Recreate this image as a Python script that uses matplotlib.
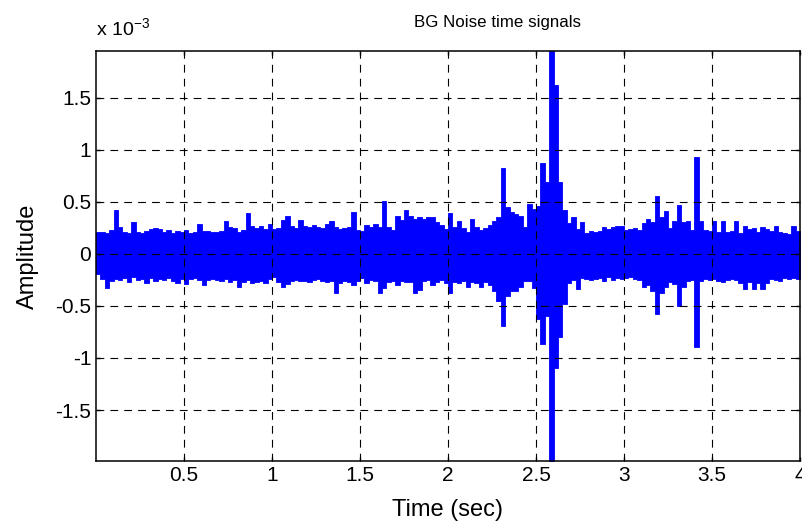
import numpy as np
import matplotlib
matplotlib.use('Agg')
import matplotlib.pyplot as plt
from matplotlib.ticker import FuncFormatter

plt.rcParams['font.family'] = ['Liberation Sans', 'DejaVu Sans']
plt.rcParams['mathtext.default'] = 'regular'

# signal extremes per 0.025 s window (x 1e-3), 0 .. 4 s
hi = [0.21, 0.21, 0.20, 0.23, 0.42, 0.26, 0.21, 0.20,
      0.31, 0.21, 0.20, 0.22, 0.24, 0.25, 0.24, 0.21,
      0.23, 0.20, 0.22, 0.21, 0.23, 0.20, 0.21, 0.29,
      0.22, 0.22, 0.21, 0.21, 0.22, 0.32, 0.26, 0.25,
      0.21, 0.23, 0.39, 0.27, 0.25, 0.27, 0.24, 0.29,
      0.24, 0.25, 0.33, 0.36, 0.27, 0.25, 0.33, 0.27,
      0.26, 0.28, 0.26, 0.25, 0.29, 0.32, 0.26, 0.24,
      0.25, 0.26, 0.40, 0.23, 0.22, 0.28, 0.26, 0.29,
      0.26, 0.51, 0.26, 0.23, 0.36, 0.33, 0.42, 0.36,
      0.34, 0.35, 0.34, 0.35, 0.35, 0.31, 0.28, 0.24,
      0.39, 0.26, 0.32, 0.25, 0.21, 0.34, 0.26, 0.23,
      0.25, 0.28, 0.32, 0.35, 0.83, 0.45, 0.40, 0.38,
      0.36, 0.26, 0.48, 0.43, 0.46, 0.87, 0.69, 1.95,
      1.62, 0.69, 0.42, 0.30, 0.35, 0.24, 0.31, 0.20,
      0.22, 0.21, 0.22, 0.26, 0.24, 0.26, 0.27, 0.27,
      0.23, 0.24, 0.25, 0.23, 0.30, 0.34, 0.31, 0.56,
      0.35, 0.41, 0.25, 0.32, 0.47, 0.31, 0.32, 0.23,
      0.93, 0.32, 0.23, 0.22, 0.32, 0.21, 0.32, 0.21,
      0.22, 0.32, 0.20, 0.27, 0.24, 0.25, 0.21, 0.26,
      0.24, 0.22, 0.27, 0.21, 0.20, 0.19, 0.27, 0.22]
lo = [-0.19, -0.24, -0.33, -0.26, -0.24, -0.25, -0.23, -0.27,
      -0.22, -0.25, -0.24, -0.28, -0.23, -0.26, -0.24, -0.25,
      -0.23, -0.26, -0.28, -0.24, -0.29, -0.24, -0.23, -0.25,
      -0.30, -0.25, -0.24, -0.25, -0.26, -0.24, -0.27, -0.25,
      -0.32, -0.27, -0.25, -0.28, -0.27, -0.26, -0.28, -0.24,
      -0.22, -0.27, -0.32, -0.29, -0.26, -0.25, -0.26, -0.26,
      -0.27, -0.25, -0.24, -0.26, -0.27, -0.26, -0.38, -0.28,
      -0.26, -0.27, -0.30, -0.26, -0.23, -0.28, -0.25, -0.26,
      -0.38, -0.33, -0.27, -0.26, -0.30, -0.26, -0.27, -0.27,
      -0.38, -0.35, -0.26, -0.25, -0.30, -0.27, -0.25, -0.28,
      -0.38, -0.27, -0.28, -0.26, -0.32, -0.27, -0.28, -0.32,
      -0.27, -0.30, -0.36, -0.45, -0.69, -0.40, -0.36, -0.36,
      -0.32, -0.26, -0.26, -0.33, -0.63, -0.87, -0.60, -1.99,
      -1.10, -0.80, -0.48, -0.28, -0.25, -0.34, -0.23, -0.24,
      -0.25, -0.24, -0.23, -0.26, -0.22, -0.25, -0.23, -0.24,
      -0.23, -0.22, -0.24, -0.25, -0.32, -0.30, -0.36, -0.58,
      -0.38, -0.32, -0.27, -0.29, -0.50, -0.32, -0.26, -0.25,
      -0.89, -0.26, -0.24, -0.25, -0.24, -0.26, -0.27, -0.25,
      -0.24, -0.25, -0.28, -0.34, -0.27, -0.34, -0.28, -0.34,
      -0.28, -0.24, -0.25, -0.26, -0.23, -0.24, -0.23, -0.24]

xticks = [0.5, 1, 1.5, 2, 2.5, 3, 3.5, 4]
yticks = [-1.5, -1, -0.5, 0, 0.5, 1, 1.5]

# window edges; the last window is closed at 4 s
edges = np.linspace(0, 4, len(hi) + 1)
top = np.append(hi, hi[-1]) * 1e-3
bot = np.append(lo, lo[-1]) * 1e-3

fig = plt.figure(figsize=(8.02, 5.24), dpi=100)
ax = fig.add_axes([96/802, 1 - 461/524, 704/802, 410/524])

ax.fill_between(edges, bot, top, step='post', color='#0000ff', lw=0.6,
                edgecolor='#0000ff')

ax.set_xlim(0, 4)
ax.set_ylim(bot.min(), top.max())
ax.set_xticks(xticks)
ax.set_yticks(np.array(yticks) * 1e-3)
ax.xaxis.set_major_formatter(FuncFormatter(lambda v, p: '%g' % v))
ax.yaxis.set_major_formatter(FuncFormatter(lambda v, p: '%g' % round(v * 1e3, 6)))

ax.grid(True, color='black', linestyle=(0, (7, 5.5)), linewidth=0.8)
ax.tick_params(direction='in', length=3, width=1, labelsize=15,
               top=True, right=True, color='black')
for s in ax.spines.values():
    s.set_linewidth(1.1)

ax.set_xlabel('Time (sec)', fontsize=17, labelpad=10)
ax.set_ylabel('Amplitude', fontsize=17, labelpad=12)
ax.set_title('BG Noise time signals', fontsize=12.2, pad=17, x=0.57)
fig.text(96/802, 1 - 35/524, 'x 10$^{-3}$', fontsize=14, ha='left', va='baseline')

fig.savefig('out.png', dpi=100)
